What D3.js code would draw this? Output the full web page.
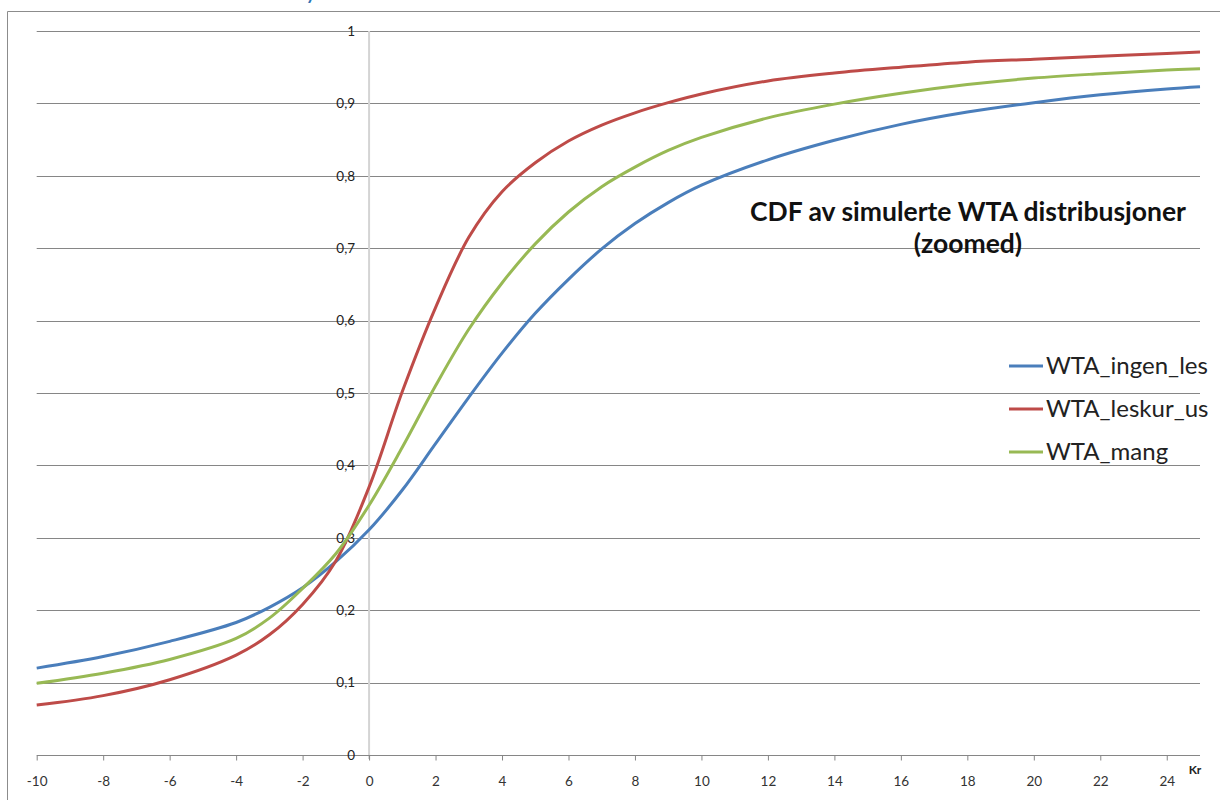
<!DOCTYPE html>
<html>
<head>
<meta charset="utf-8">
<script src="https://cdn.jsdelivr.net/npm/d3@7/dist/d3.min.js"></script>
<style>
  body { margin: 0; background: #fff; }
  svg { display: block; font-family: Lato, "Open Sans", sans-serif; }
</style>
</head>
<body>
<svg id="cdf_chart" width="1220" height="800"></svg>
<script>
// values
const kr = [-10, -8, -6, -4, -3, -2, -1, 0, 1, 2, 3, 4, 5, 6, 7, 8, 9, 10, 12, 14, 16, 18, 20, 22, 24, 25];
const wtaIngenLes = [0.120, 0.136, 0.157, 0.183, 0.204, 0.231, 0.267, 0.311, 0.366, 0.430, 0.494, 0.555, 0.610, 0.657, 0.699, 0.734, 0.763, 0.787, 0.822, 0.849, 0.871, 0.888, 0.901, 0.912, 0.920, 0.923];
const wtaLeskurUs = [0.069, 0.082, 0.104, 0.138, 0.166, 0.208, 0.268, 0.370, 0.502, 0.618, 0.715, 0.778, 0.818, 0.848, 0.870, 0.887, 0.901, 0.913, 0.931, 0.942, 0.950, 0.957, 0.961, 0.965, 0.969, 0.971];
const wtaMang = [0.099, 0.113, 0.132, 0.161, 0.189, 0.230, 0.278, 0.345, 0.425, 0.510, 0.588, 0.652, 0.706, 0.750, 0.785, 0.812, 0.835, 0.853, 0.880, 0.899, 0.914, 0.926, 0.935, 0.941, 0.946, 0.948];

const seriesNames = ["WTA_ingen_les", "WTA_leskur_us", "WTA_mang"];
const seriesColors = ["#4a7ebb", "#be4b48", "#98b954"];
const xTicks = [-10, -8, -6, -4, -2, 0, 2, 4, 6, 8, 10, 12, 14, 16, 18, 20, 22, 24];
const yTicks = [0, 0.1, 0.2, 0.3, 0.4, 0.5, 0.6, 0.7, 0.8, 0.9, 1];
const titleLines = ["CDF av simulerte WTA distribusjoner", "(zoomed)"];

const svg = d3.select("#cdf_chart");

const x = d3.scaleLinear().domain([-10, 25]).range([36.7, 1200]);
const y = d3.scaleLinear().domain([0, 1]).range([755, 31]);

// chart frame (cut by the picture edges)
svg.append("path")
	.attr("d", "M7.5,800 V11.5 H1220")
	.attr("fill", "none")
	.attr("stroke", "#8c8c8c");

// bit of a heading above the chart
svg.append("text")
	.attr("x", 305).attr("y", -1)
	.attr("font-size", 24)
	.attr("fill", "#2e74b5")
	.text("y");

// horizontal gridlines
svg.append("g")
	.selectAll("line")
	.data(yTicks.slice(1))
	.enter().append("line")
	.attr("x1", x(-10)).attr("x2", x(25))
	.attr("y1", d => Math.round(y(d)) + 0.5)
	.attr("y2", d => Math.round(y(d)) + 0.5)
	.attr("stroke", "#868686");

// vertical axis at x = 0
svg.append("line")
	.attr("x1", x(0)).attr("x2", x(0))
	.attr("y1", y(1)).attr("y2", y(0) + 4)
	.attr("stroke", "#d4d4d4")
	.attr("stroke-width", 2);

// x axis
const xAxis = svg.append("g")
	.attr("transform", `translate(0, ${Math.round(y(0)) + 0.5})`)
	.call(d3.axisBottom(x).tickValues(xTicks).tickFormat(d => String(d))
		.tickSize(5).tickPadding(16).tickSizeOuter(0));
xAxis.select(".domain").attr("stroke", "#868686").attr("d", `M${x(-10)},0H${x(25)}`);
xAxis.selectAll(".tick line").attr("stroke", "#868686");
xAxis.selectAll(".tick text")
	.attr("font-family", "Lato, sans-serif")
	.attr("font-size", 13.5)
	.attr("fill", "#333");

// y tick labels, sitting left of the zero line
svg.append("g")
	.selectAll("text")
	.data(yTicks)
	.enter().append("text")
	.attr("x", x(0) - 14)
	.attr("y", d => y(d))
	.attr("dy", "0.35em")
	.attr("text-anchor", "end")
	.attr("font-size", 13.5)
	.attr("fill", "#222")
	.text(d => d3.format(".1~f")(d).replace(".", ","));

svg.append("text")
	.attr("x", 1195).attr("y", 774)
	.attr("text-anchor", "middle")
	.attr("font-size", 12)
	.attr("font-weight", "bold")
	.attr("fill", "#222")
	.text("Kr");

// curves
const allSeries = [wtaIngenLes, wtaLeskurUs, wtaMang];
const line = d3.line()
	.x((d, i) => x(kr[i]))
	.y(d => y(d))
	.curve(d3.curveCatmullRom.alpha(0.5));

svg.append("g")
	.selectAll("path")
	.data(allSeries)
	.enter().append("path")
	.attr("d", d => line(d))
	.attr("fill", "none")
	.attr("stroke", (_, i) => seriesColors[i])
	.attr("stroke-width", 3);

// title
svg.append("g")
	.selectAll("text")
	.data(titleLines)
	.enter().append("text")
	.attr("x", 968)
	.attr("y", (_, i) => 221 + i * 32)
	.attr("text-anchor", "middle")
	.attr("font-size", 26.5)
	.attr("font-weight", "bold")
	.attr("fill", "#111")
	.text(d => d);

// legend
const legend = svg.append("g")
	.selectAll("g")
	.data(seriesNames)
	.enter().append("g")
	.attr("transform", (_, i) => `translate(1009, ${366 + i * 43})`);
legend.append("line")
	.attr("x1", 0).attr("x2", 34)
	.attr("stroke", (_, i) => seriesColors[i])
	.attr("stroke-width", 3);
legend.append("text")
	.attr("x", 37)
	.attr("dy", "0.35em")
	.attr("font-size", 24)
	.attr("fill", "#222")
	.text(d => d);
</script>
</body>
</html>
